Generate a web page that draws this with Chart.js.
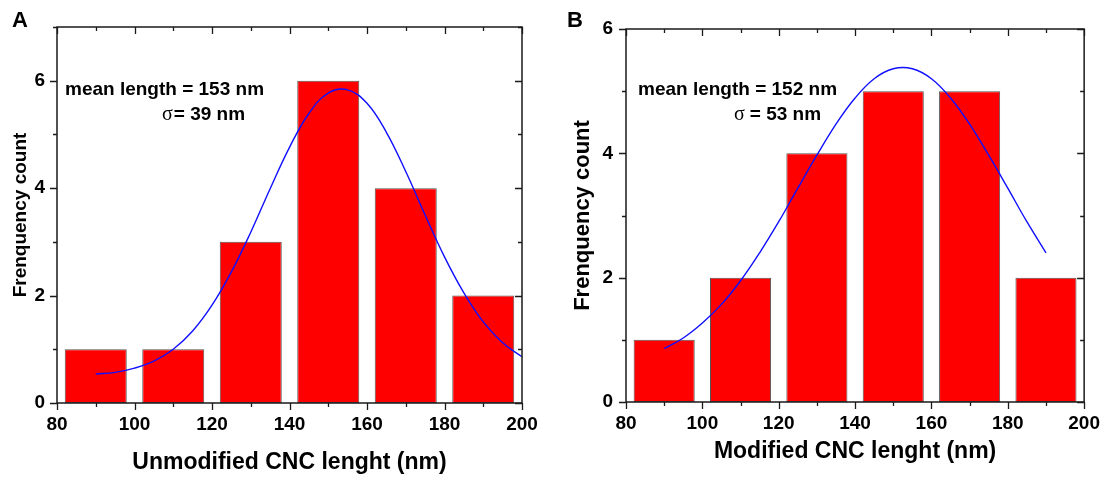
<!DOCTYPE html>
<html lang="en">
<head>
    <meta charset="UTF-8">
    <script src="https://cdn.jsdelivr.net/npm/chart.js@4.4.0/dist/chart.umd.min.js"></script>
    <title>CNC length histograms</title>
    <style>
        body { margin: 0; background: #fff; }
        .panel { position: absolute; top: 0; width: 555px; height: 480px; }
        #boxA { left: 0; }
        #boxB { left: 555px; }
    </style>
</head>
<body>
    <div class="panel" id="boxA"><canvas id="chartA"></canvas></div>
    <div class="panel" id="boxB"><canvas id="chartB"></canvas></div>
    <script>
        // histogram bins (centre of each 20 nm bin) and counts
        const binCentres = [90, 110, 130, 150, 170, 190];
        const countsA = [1, 1, 3, 6, 4, 2];
        const countsB = [1, 2, 4, 5, 5, 2];

        // gaussian fit curves
        const fitXA = [90, 95, 100, 105, 110, 115, 120, 125, 130, 135, 140, 145, 150, 155, 160, 165, 170, 175, 180, 185, 190, 195, 200];
        const fitYA = [0.54, 0.57, 0.65, 0.78, 1.00, 1.34, 1.82, 2.44, 3.18, 3.99, 4.76, 5.39, 5.77, 5.83, 5.58, 5.04, 4.31, 3.50, 2.72, 2.05, 1.51, 1.12, 0.86];
        const fitXB = [90, 95, 100, 105, 110, 115, 120, 125, 130, 135, 140, 145, 150, 155, 160, 165, 170, 175, 180, 185, 190];
        const fitYB = [0.86, 1.03, 1.27, 1.57, 1.95, 2.40, 2.90, 3.44, 3.97, 4.47, 4.89, 5.20, 5.36, 5.36, 5.20, 4.89, 4.47, 3.97, 3.44, 2.90, 2.40];

        const xTitleA = 'Unmodified CNC lenght (nm)';
        const xTitleB = 'Modified CNC lenght (nm)';
        const yTitle = 'Frenquency count';

        const SANS = '"Liberation Sans", Arial, sans-serif';
        Chart.defaults.font.family = SANS;
        Chart.defaults.color = '#000';

        // box frame with Origin-style ticks: outward on bottom/left, inward on top/right
        const frame = {
            id: 'frame',
            afterDatasetsDraw(chart) {
                const { ctx, chartArea: a, scales: { x, y } } = chart;
                ctx.save();
                ctx.strokeStyle = '#1a1a1a';
                ctx.lineWidth = 1.5;
                ctx.strokeRect(a.left, a.top, a.right - a.left, a.bottom - a.top);
                ctx.lineWidth = 1.3;
                ctx.beginPath();
                for (let v = x.min; v <= x.max; v += 10) {
                    const px = Math.round(x.getPixelForValue(v)) + 0.5;
                    const len = v % 20 === 0 ? 7 : 4;
                    ctx.moveTo(px, a.bottom); ctx.lineTo(px, a.bottom + len);
                    ctx.moveTo(px, a.top); ctx.lineTo(px, a.top + len);
                }
                for (let v = y.min; v <= y.max; v += 1) {
                    const py = Math.round(y.getPixelForValue(v)) + 0.5;
                    const len = v % 2 === 0 ? 7 : 4;
                    ctx.moveTo(a.left - len, py); ctx.lineTo(a.left, py);
                    ctx.moveTo(a.right - len, py); ctx.lineTo(a.right, py);
                }
                ctx.stroke();
                ctx.restore();
            }
        };

        // panel letter and mean / sigma note
        const notes = {
            id: 'notes',
            afterDraw(chart, args, o) {
                const ctx = chart.ctx;
                ctx.save();
                ctx.fillStyle = '#000';
                ctx.textBaseline = 'alphabetic';
                ctx.font = 'bold 22px ' + SANS;
                ctx.fillText(o.letter, o.letterX, 27);
                ctx.font = 'bold 19px ' + SANS;
                ctx.fillText(o.mean, o.meanX, 95);
                ctx.font = '20px "Liberation Serif", serif';
                ctx.fillText('σ', o.sigmaX, 120);
                const w = ctx.measureText('σ').width;
                ctx.font = 'bold 19px ' + SANS;
                ctx.fillText(o.sigma, o.sigmaX + w + o.gap, 120);
                ctx.restore();
            }
        };

        function makeChart(id, counts, fitX, fitY, cfg) {
            const bars = binCentres.map((c, i) => ({ x: c, y: counts[i] }));
            const curve = fitX.map((v, i) => ({ x: v, y: fitY[i] }));
            return new Chart(document.getElementById(id), {
                type: 'bar',
                data: {
                    datasets: [{
                        type: 'line',
                        data: curve,
                        borderColor: '#1010ff',
                        borderWidth: 1.4,
                        pointRadius: 0,
                        tension: 0.4,
                        order: 0
                    }, {
                        type: 'bar',
                        data: bars,
                        backgroundColor: '#ff0000',
                        borderColor: '#555555',
                        borderWidth: 1,
                        borderSkipped: false,
                        barPercentage: 0.8,
                        categoryPercentage: 1.0,
                        order: 1
                    }]
                },
                options: {
                    responsive: true,
                    maintainAspectRatio: false,
                    animation: false,
                    layout: { padding: { top: cfg.top, right: cfg.right, bottom: 0, left: 0 } },
                    plugins: {
                        legend: { display: false },
                        tooltip: { enabled: false },
                        notes: cfg.notes
                    },
                    scales: {
                        x: {
                            type: 'linear',
                            offset: false,
                            min: 80,
                            max: 200,
                            grid: { display: false, drawTicks: false, offset: false },
                            border: { display: false },
                            ticks: { stepSize: 20, padding: 10, font: { size: 19, weight: 'bold' } },
                            title: {
                                display: true,
                                text: cfg.xTitle,
                                font: { size: 23, weight: 'bold' },
                                padding: { top: 0, bottom: cfg.xTitlePad }
                            },
                            afterFit: s => { s.height = cfg.xHeight; }
                        },
                        y: {
                            min: 0,
                            max: cfg.yMax,
                            grid: { display: false, drawTicks: false },
                            border: { display: false },
                            ticks: { stepSize: 2, includeBounds: false, padding: cfg.yTickPad, font: { size: 19, weight: 'bold' } },
                            title: {
                                display: true,
                                text: yTitle,
                                font: { size: cfg.yTitleSize, weight: 'bold' },
                                padding: { top: cfg.yTitlePad, bottom: 0 }
                            },
                            afterFit: s => { s.width = cfg.yWidth; }
                        }
                    }
                },
                plugins: [frame, notes]
            });
        }

        makeChart('chartA', countsA, fitXA, fitYA, {
            top: 27, right: 33, xHeight: 77, yWidth: 57, yMax: 7,
            xTitle: xTitleA, xTitlePad: 4, yTitleSize: 19, yTitlePad: 9, yTickPad: 12,
            notes: { letter: 'A', letterX: 12, mean: 'mean length = 153 nm', meanX: 65, sigma: '= 39 nm', sigmaX: 162, gap: 1 }
        });

        makeChart('chartB', countsB, fitXB, fitYB, {
            top: 29, right: 23, xHeight: 78, yWidth: 71, yMax: 6,
            xTitle: xTitleB, xTitlePad: 15, yTitleSize: 22, yTitlePad: 15, yTickPad: 13,
            notes: { letter: 'B', letterX: 12, mean: 'mean length = 152 nm', meanX: 83, sigma: '= 53 nm', sigmaX: 179, gap: 5 }
        });
    </script>
</body>
</html>
